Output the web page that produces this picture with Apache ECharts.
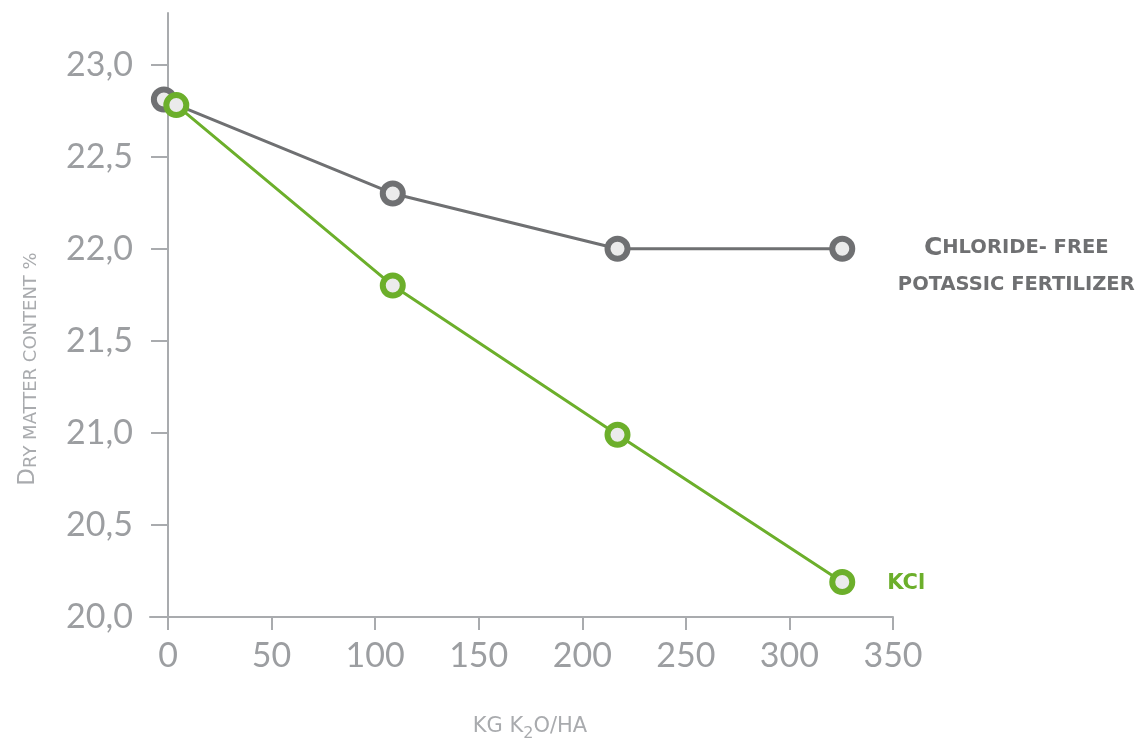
<!DOCTYPE html>
<html>
<head>
<meta charset="utf-8">
<title>Dry matter content vs K2O rate</title>
<script src="https://cdn.jsdelivr.net/npm/echarts@6/dist/echarts.min.js"></script>
<style>
  html, body { margin: 0; padding: 0; background: #ffffff; }
  #chart { width: 1141px; height: 746px; }
</style>
</head>
<body>
<div id="chart"></div>
<script>
// K2O application rate (kg/ha) and dry matter content (%) for each fertilizer
const chlorideFreeX = [-2, 108.5, 217, 325.5];
const chlorideFreeY = [22.81, 22.30, 22.00, 22.00];
const kclX = [4, 108.5, 217, 325.5];
const kclY = [22.78, 21.80, 20.99, 20.19];

// Axis tick positions
const xTicks = [0, 50, 100, 150, 200, 250, 300, 350];
const yTicks = [20.0, 20.5, 21.0, 21.5, 22.0, 22.5, 23.0];

const GRAY = '#6f7072';
const GREEN = '#6caf2b';
const AXIS = '#a9abae';
const LABEL = '#9c9ea1';
const TITLE = '#a9abae';
const FILL = '#ebebeb';

function pairs(xs, ys) {
  return xs.map((x, i) => [x, ys[i]]);
}

function withEndLabel(points, label) {
  return points.map((p, i) => i === points.length - 1 ? { value: p, label: label } : { value: p });
}

const chart = echarts.init(document.getElementById('chart'), null, { renderer: 'canvas' });

const tickFont = { fontFamily: 'Lato', fontSize: 34, color: LABEL };

chart.setOption({
  animation: false,
  backgroundColor: '#ffffff',
  grid: { left: 150, right: 248, top: 13, bottom: 129, containLabel: false },
  xAxis: {
    type: 'value',
    min: -8.7,
    max: 350,
    splitLine: { show: false },
    axisLine: { lineStyle: { color: AXIS, width: 2 } },
    axisTick: { show: true, length: 13, customValues: xTicks, lineStyle: { color: AXIS, width: 2 } },
    axisLabel: Object.assign({ margin: 22, customValues: xTicks, formatter: v => String(v) }, tickFont)
  },
  yAxis: {
    type: 'value',
    min: 20,
    max: 23.28,
    splitLine: { show: false },
    axisLine: { show: true, onZero: true, lineStyle: { color: AXIS, width: 2 } },
    axisTick: { show: true, length: 17, customValues: yTicks, lineStyle: { color: AXIS, width: 2 } },
    axisLabel: Object.assign({
      margin: 17,
      customValues: yTicks,
      formatter: v => v.toFixed(1).replace('.', ',')
    }, tickFont)
  },
  graphic: [
    {
      type: 'text',
      x: 28,
      y: 369,
      rotation: Math.PI / 2,
      style: {
        text: '{big|D}{small|RY MATTER CONTENT %}',
        align: 'center',
        verticalAlign: 'middle',
        rich: {
          big: { fontFamily: 'DejaVu Sans', fontSize: 23, fill: TITLE, lineHeight: 24, verticalAlign: 'bottom' },
          small: { fontFamily: 'DejaVu Sans', fontSize: 18, fill: TITLE, lineHeight: 20, verticalAlign: 'bottom' }
        }
      }
    },
    {
      type: 'text',
      x: 530,
      y: 729,
      style: {
        text: '{a|KG K}{sub|2}{a|O/HA}',
        align: 'center',
        verticalAlign: 'middle',
        rich: {
          a: { fontFamily: 'DejaVu Sans', fontSize: 21, fill: TITLE, lineHeight: 26, verticalAlign: 'top' },
          sub: { fontFamily: 'DejaVu Sans', fontSize: 16, fill: TITLE, lineHeight: 14, verticalAlign: 'bottom' }
        }
      }
    }
  ],
  series: [
    {
      name: 'Chloride- free potassic fertilizer',
      type: 'line',
      z: 2,
      symbol: 'circle',
      symbolSize: 20,
      lineStyle: { color: GRAY, width: 3 },
      itemStyle: { color: FILL, borderColor: GRAY, borderWidth: 6 },
      emphasis: { disabled: true },
      data: withEndLabel(pairs(chlorideFreeX, chlorideFreeY), {
        show: true,
        position: 'inside',
        offset: [174, 18],
        align: 'center',
        verticalAlign: 'middle',
        formatter: '{big|C}{small|HLORIDE- FREE}\n{small|POTASSIC FERTILIZER}',
        rich: {
          big: { fontFamily: 'DejaVu Sans', fontWeight: 'bold', fontSize: 25, color: GRAY, lineHeight: 37 },
          small: { fontFamily: 'DejaVu Sans', fontWeight: 'bold', fontSize: 19.5, color: GRAY, lineHeight: 37 }
        }
      })
    },
    {
      name: 'KCl',
      type: 'line',
      z: 3,
      symbol: 'circle',
      symbolSize: 20,
      lineStyle: { color: GREEN, width: 3 },
      itemStyle: { color: FILL, borderColor: GREEN, borderWidth: 6 },
      emphasis: { disabled: true },
      data: withEndLabel(pairs(kclX, kclY), {
        show: true,
        position: 'inside',
        offset: [64, 2],
        align: 'center',
        verticalAlign: 'middle',
        formatter: 'KCl',
        fontFamily: 'DejaVu Sans',
        fontWeight: 'bold',
        fontSize: 21,
        color: GREEN
      })
    }
  ]
});
</script>
</body>
</html>
